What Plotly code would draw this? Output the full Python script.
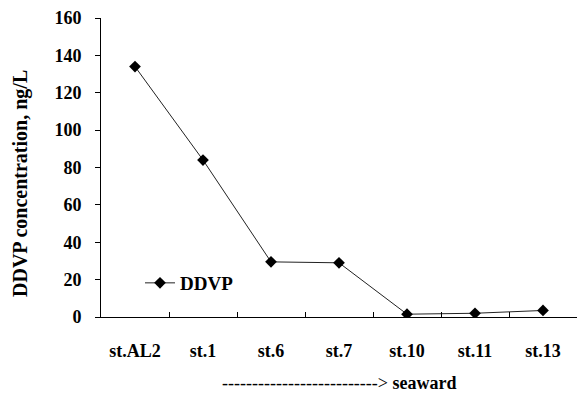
import plotly.graph_objects as go

stations = ["st.AL2", "st.1", "st.6", "st.7", "st.10", "st.11", "st.13"]
ddvp = [134, 84, 29.5, 29, 1.5, 2, 3.5]
y_ticks = [0, 20, 40, 60, 80, 100, 120, 140, 160]

FONT = "Liberation Serif"
W, H = 577, 397
L, R, T, B = 101, 0, 18, 80
pw, ph = W - L - R, H - T - B

fig = go.Figure()
fig.add_trace(go.Scatter(
    x=stations, y=ddvp, mode="lines+markers", name="DDVP",
    line=dict(color="#222222", width=1),
    marker=dict(symbol="diamond", size=9, color="black"),
))

fig.update_layout(
    width=W, height=H,
    margin=dict(l=L, r=R, t=T, b=B),
    paper_bgcolor="white", plot_bgcolor="white",
    font=dict(family=FONT, color="black"),
    showlegend=True,
    legend=dict(x=(140 - L) / pw, y=(317 - 283) / ph, xanchor="left", yanchor="middle",
                bgcolor="rgba(0,0,0,0)", font=dict(size=19, family=FONT, weight="bold"),
                itemwidth=30, borderwidth=0),
    xaxis=dict(type="category", range=[-0.5, 6.5], showline=True, linecolor="black",
               linewidth=1, ticks="inside", tickson="boundaries", ticklen=5,
               tickcolor="black", showgrid=False, zeroline=False,
               tickfont=dict(size=18, family=FONT, weight="bold"), ticklabelstandoff=17),
    yaxis=dict(range=[0, 160], tickvals=y_ticks,
               ticktext=["<b>%d</b>" % v for v in y_ticks],
               showline=True, linecolor="black",
               linewidth=1, ticks="outside", ticklen=5, tickcolor="black",
               showgrid=False, zeroline=False,
               tickfont=dict(size=18, family=FONT, weight="bold"), ticklabelstandoff=10),
    annotations=[
        dict(text="<b>DDVP concentration, ng/L</b>", textangle=-90,
             xref="paper", yref="paper", x=(20 - L) / pw, y=(317 - 184) / ph,
             xanchor="center", yanchor="middle", showarrow=False,
             font=dict(size=20, family=FONT)),
        dict(text="--------------------------&gt; <b>seaward</b>",
             xref="paper", yref="paper", x=(339 - L) / pw, y=(317 - 383) / ph,
             xanchor="center", yanchor="middle", showarrow=False,
             font=dict(size=18, family=FONT)),
    ],
)

fig.write_html("out.html")
